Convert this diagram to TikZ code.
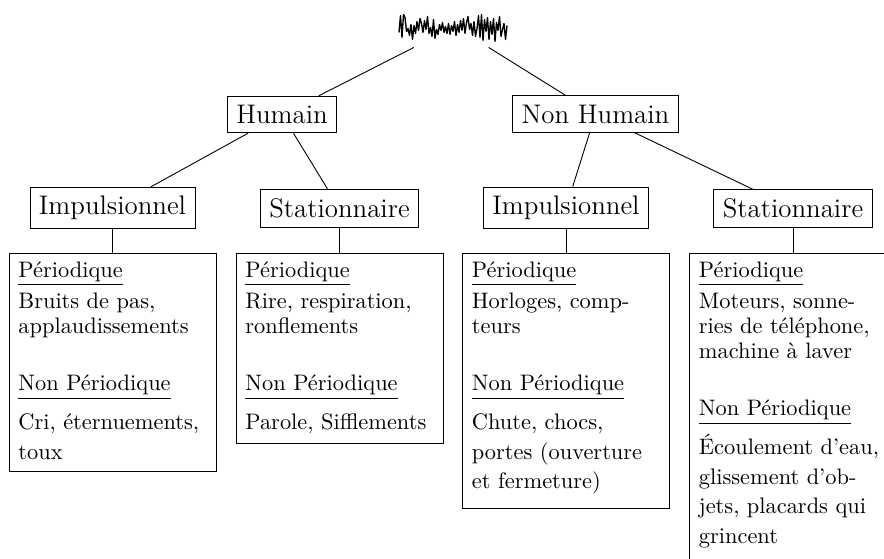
\documentclass[tikz,border=0pt]{standalone}
\newcommand\mylistfont{\fontsize{10}{11.16}\selectfont\lineskiplimit=-20pt\relax}
\begin{document}
\begin{tikzpicture}[x=0.4464pt,y=-0.4464pt,
  catbox/.style={draw, font=\large, inner sep=4pt},
  listbox/.style={draw, anchor=north, inner sep=0pt, minimum width=92.4pt},
  listtext/.style={anchor=base west, inner sep=0pt, text width=88pt, align=left,
    font=\mylistfont},
  wavestyle/.style={line width=0.6pt, line join=round}]
\useasboundingbox (0,0) rectangle (884,559);
\clip (0,0) rectangle (884,559);

% root waveform
\node[minimum width=53.6pt, minimum height=18.3pt, inner sep=0pt] (wave) at (455,26.5) {};
\draw[wavestyle] (399,32.5) \foreach \d [count=\i] in {-12,10,-13,-10,4,1,8,-3,12,-2,6,-6,3,-9,-4,5,-7,2,-11,6,0,9,-8,11,2,7,-3,3,-5,5,-1,6,-4,7,-2,4,-6,8,-3,5,-7,3,-9,6,-5,-11,2,-4,8,-6,9,1,-12,10,-13,13,-8,4,-10,12,-6,7,-9,14,-5,3,-11,9,2,-4,12,-2} { -- ({399+1.5*\i},{27.5+\d}) };

% category nodes
\node[catbox] (hum)  at (282,114.5) {Humain};
\node[catbox] (nhum) at (595.5,114) {Non Humain};
\node[catbox] (imp1) at (112.5,208) {Impulsionnel};
\node[catbox] (sta1) at (339.5,208.5) {Stationnaire};
\node[catbox] (imp2) at (566,208) {Impulsionnel};
\node[catbox] (sta2) at (793,208.5) {Stationnaire};

% list boxes
\node[listbox, minimum height=97.1pt]  (b1) at (112.5,253.5) {};
\node[listbox, minimum height=84.6pt]  (b2) at (339.5,253.5) {};
\node[listbox, minimum height=113.8pt] (b3) at (566,253.5) {};
\node[listbox, minimum height=145.8pt] (b4) at (793,253.5) {};

% connectors
\draw (wave) -- (hum);
\draw (wave) -- (nhum);
\draw (hum) -- (imp1);
\draw (hum) -- (sta1);
\draw (nhum) -- (imp2);
\draw (nhum) -- (sta2);
\draw (imp1.south) -- (b1.north);
\draw (sta1.south) -- (b2.north);
\draw (imp2.south) -- (b3.north);
\draw (sta2.south) -- (b4.north);

% texts
\node[listtext] (t1) at ([xshift=4.2pt,yshift=-10.6pt]b1.north west) {%
\underline{Périodique}\\[2.9pt]
Bruits de pas,\\
applaudissements\\[14.29pt]
\underline{Non Périodique}\\[6.24pt]
Cri, éternuements,\\[2pt]
toux};
\node[listtext] (t2) at ([xshift=4.2pt,yshift=-10.6pt]b2.north west) {%
\underline{Périodique}\\[2.9pt]
Rire, respiration,\\
ronflements\\[14.29pt]
\underline{Non Périodique}\\[6.24pt]
Parole, Sifflements};
\node[listtext] (t3) at ([xshift=4.2pt,yshift=-10.6pt]b3.north west) {%
\underline{Périodique}\\[2.9pt]
Horloges, comp-\\
teurs\\[14.29pt]
\underline{Non Périodique}\\[6.24pt]
Chute, chocs,\\[2pt]
portes (ouverture\\[2pt]
et fermeture)};
\node[listtext] (t4) at ([xshift=4.2pt,yshift=-10.6pt]b4.north west) {%
\underline{Périodique}\\[2.9pt]
Moteurs, sonne-\\
ries de téléphone,\\
machine à laver\\[14.29pt]
\underline{Non Périodique}\\[6.24pt]
Écoulement d’eau,\\[2pt]
glissement d’ob-\\[2pt]
jets, placards qui\\[2pt]
grincent};
\end{tikzpicture}
\end{document}
